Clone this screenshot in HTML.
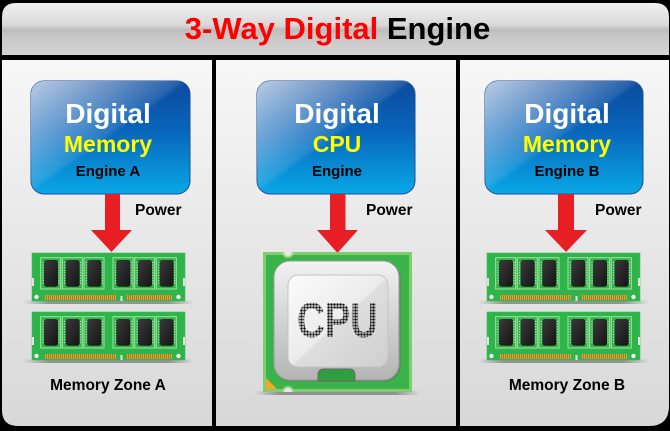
<!DOCTYPE html>
<html>
<head>
<meta charset="utf-8">
<style>
  html, body { margin:0; padding:0; background:#000; }
  body { width:670px; height:431px; overflow:hidden; }
  svg { display:block; }
</style>
</head>
<body>
<svg width="670" height="431" viewBox="0 0 670 431" xmlns="http://www.w3.org/2000/svg">
  <defs>
    <linearGradient id="hdr" x1="0" y1="0" x2="0" y2="1">
      <stop offset="0" stop-color="#f0f0f0"/>
      <stop offset="0.42" stop-color="#d9d9d9"/>
      <stop offset="0.52" stop-color="#bcbcbc"/>
      <stop offset="0.62" stop-color="#c6c6c6"/>
      <stop offset="1" stop-color="#d4d4d4"/>
    </linearGradient>
    <linearGradient id="pnl" x1="0" y1="0" x2="0" y2="1">
      <stop offset="0" stop-color="#f7f7f7"/>
      <stop offset="1" stop-color="#d8d8d8"/>
    </linearGradient>
    <linearGradient id="blueBase" x1="0" y1="0" x2="0" y2="1">
      <stop offset="0" stop-color="#0c4a9e"/>
      <stop offset="0.45" stop-color="#0866bb"/>
      <stop offset="1" stop-color="#08a8e6"/>
    </linearGradient>
    <linearGradient id="gloss" x1="0" y1="0" x2="1" y2="1">
      <stop offset="0" stop-color="#ffffff" stop-opacity="0.72"/>
      <stop offset="0.3" stop-color="#ffffff" stop-opacity="0.35"/>
      <stop offset="0.47" stop-color="#ffffff" stop-opacity="0.12"/>
      <stop offset="0.5" stop-color="#ffffff" stop-opacity="0"/>
    </linearGradient>
    <linearGradient id="shad" x1="0" y1="0" x2="1" y2="0">
      <stop offset="0" stop-color="#555" stop-opacity="0"/>
      <stop offset="0.15" stop-color="#555" stop-opacity="0.55"/>
      <stop offset="0.85" stop-color="#555" stop-opacity="0.55"/>
      <stop offset="1" stop-color="#555" stop-opacity="0"/>
    </linearGradient>
    <linearGradient id="chipG" x1="0" y1="0" x2="1" y2="1">
      <stop offset="0" stop-color="#3a3a3a"/>
      <stop offset="1" stop-color="#141414"/>
    </linearGradient>
    <pattern id="goldP" width="2" height="6" patternUnits="userSpaceOnUse">
      <rect width="2" height="6" fill="#d2ab3e"/>
      <rect width="0.7" height="6" fill="#8f6c1a"/>
    </pattern>
    <pattern id="dots" width="3" height="3" patternUnits="userSpaceOnUse">
      <circle cx="1.5" cy="1.5" r="1.25" fill="#111"/>
    </pattern>
    <linearGradient id="lid" x1="0" y1="0" x2="0" y2="1">
      <stop offset="0" stop-color="#f2f2f2"/>
      <stop offset="1" stop-color="#b4b4b4"/>
    </linearGradient>
    <linearGradient id="face" x1="0" y1="0" x2="1" y2="1">
      <stop offset="0" stop-color="#fbfbfb"/>
      <stop offset="0.5" stop-color="#ececec"/>
      <stop offset="0.52" stop-color="#dedede"/>
      <stop offset="1" stop-color="#cfcfcf"/>
    </linearGradient>

    <g id="ram">
      <rect x="-9" y="47.5" width="171" height="3.5" fill="url(#shad)"/>
      <rect x="0" y="0" width="153" height="48" fill="#2fb34b" stroke="#44bd58" stroke-width="0.6"/>
      <rect x="0" y="25" width="2" height="8" fill="#e3e3e3"/>
      <rect x="151" y="25" width="2" height="8" fill="#e3e3e3"/>
      <g fill="none" stroke="#a6e3a0" stroke-width="1">
        <rect x="8.7" y="4.7" width="20" height="31.3"/>
        <rect x="30.3" y="4.7" width="20" height="31.3"/>
        <rect x="52" y="4.7" width="20" height="31.3"/>
        <rect x="81" y="4.7" width="20" height="31.3"/>
        <rect x="102.7" y="4.7" width="20" height="31.3"/>
        <rect x="124.3" y="4.7" width="20" height="31.3"/>
      </g>
      <g stroke="#cdeec6" stroke-width="1.2" stroke-dasharray="1 1.6">
        <line x1="11" y1="9" x2="11" y2="32"/><line x1="27" y1="9" x2="27" y2="32"/>
        <line x1="32.6" y1="9" x2="32.6" y2="32"/><line x1="48.6" y1="9" x2="48.6" y2="32"/>
        <line x1="54.3" y1="9" x2="54.3" y2="32"/><line x1="70.3" y1="9" x2="70.3" y2="32"/>
        <line x1="83.3" y1="9" x2="83.3" y2="32"/><line x1="99.3" y1="9" x2="99.3" y2="32"/>
        <line x1="105" y1="9" x2="105" y2="32"/><line x1="121" y1="9" x2="121" y2="32"/>
        <line x1="126.6" y1="9" x2="126.6" y2="32"/><line x1="142.6" y1="9" x2="142.6" y2="32"/>
      </g>
      <g fill="url(#chipG)">
        <rect x="12" y="7" width="14" height="26.7" rx="2.5"/>
        <rect x="33.6" y="7" width="14" height="26.7" rx="2.5"/>
        <rect x="55.3" y="7" width="14" height="26.7" rx="2.5"/>
        <rect x="84.3" y="7" width="14" height="26.7" rx="2.5"/>
        <rect x="106" y="7" width="14" height="26.7" rx="2.5"/>
        <rect x="127.6" y="7" width="14" height="26.7" rx="2.5"/>
      </g>
      <rect x="13" y="42" width="71" height="5" fill="url(#goldP)"/>
      <rect x="94" y="42" width="46" height="5" fill="url(#goldP)"/>
      <rect x="88.5" y="43" width="2" height="5" fill="#dfe9dc"/>
      <circle cx="4.5" cy="44" r="2.2" fill="#f2f2f2"/>
      <circle cx="146.5" cy="44" r="2.2" fill="#f2f2f2"/>
    </g>
  </defs>

  <!-- black frame -->
  <rect x="0" y="0" width="670" height="431" fill="#000"/>

  <!-- header -->
  <path d="M2,55 V17 Q2,3 16,3 H655 Q669,3 669,17 V55 Z" fill="url(#hdr)"/>
  <text x="337.5" y="39" text-anchor="middle" font-family="Liberation Sans, Arial, sans-serif" font-weight="bold" font-size="31"><tspan fill="#ff0000">3-Way Digital</tspan><tspan fill="#000"> Engine</tspan></text>

  <!-- panels -->
  <path d="M2,60 H212 V426 H18 Q2,426 2,410 Z" fill="url(#pnl)"/>
  <rect x="216" y="60" width="240" height="366" fill="url(#pnl)"/>
  <path d="M460,60 H669 V406 Q669,426 649,426 H460 Z" fill="url(#pnl)"/>

  <!-- blue boxes -->
  <g>
    <rect x="31" y="81" width="159" height="113" rx="13" fill="url(#blueBase)" stroke="#1b4d99" stroke-width="1"/>
    <rect x="31" y="81" width="159" height="113" rx="13" fill="url(#gloss)"/>
    <rect x="257" y="81" width="158" height="113" rx="13" fill="url(#blueBase)" stroke="#1b4d99" stroke-width="1"/>
    <rect x="257" y="81" width="158" height="113" rx="13" fill="url(#gloss)"/>
    <rect x="485" y="81" width="158" height="113" rx="13" fill="url(#blueBase)" stroke="#1b4d99" stroke-width="1"/>
    <rect x="485" y="81" width="158" height="113" rx="13" fill="url(#gloss)"/>
  </g>
  <g font-family="Liberation Sans, Arial, sans-serif" font-weight="bold" text-anchor="middle">
    <text x="108" y="123" font-size="28" fill="#ffffff">Digital</text>
    <text x="108" y="152" font-size="23" fill="#ffff00">Memory</text>
    <text x="108" y="176" font-size="15" fill="#000">Engine A</text>

    <text x="337" y="123" font-size="28" fill="#ffffff">Digital</text>
    <text x="337" y="152" font-size="23" fill="#ffff00">CPU</text>
    <text x="337" y="176" font-size="15" fill="#000">Engine</text>

    <text x="567" y="123" font-size="28" fill="#ffffff">Digital</text>
    <text x="567" y="152" font-size="23" fill="#ffff00">Memory</text>
    <text x="567" y="176" font-size="15" fill="#000">Engine B</text>
  </g>

  <!-- arrows -->
  <g fill="#e81e25">
    <rect x="105" y="194" width="15" height="37"/>
    <polygon points="91,230 132,230 111.5,252"/>
    <rect x="330" y="194" width="15.5" height="37"/>
    <polygon points="317,230 358,230 337.5,253"/>
    <rect x="558" y="194" width="16" height="37"/>
    <polygon points="545,230 587,230 566,252"/>
  </g>
  <g font-family="Liberation Sans, Arial, sans-serif" font-weight="bold" font-size="15.5" fill="#000">
    <text x="135" y="215">Power</text>
    <text x="366" y="215">Power</text>
    <text x="595" y="215">Power</text>
  </g>

  <!-- RAM modules -->
  <use href="#ram" x="32" y="253"/>
  <use href="#ram" x="32" y="312"/>
  <use href="#ram" x="487" y="253"/>
  <use href="#ram" x="487" y="312"/>

  <!-- CPU -->
  <rect x="255" y="391" width="165" height="4" fill="url(#shad)"/>
  <rect x="263" y="252" width="149" height="140" fill="#80cd70"/>
  <rect x="266" y="255" width="143" height="134" fill="#3ab449"/>
  <path d="M282,252 A6,6 0 0 0 294,252 Z" fill="#9ad88c"/>
  <path d="M284,252 A4,4 0 0 0 292,252 Z" fill="#e6e6e6"/>
  <path d="M282,392 A6,6 0 0 1 294,392 Z" fill="#9ad88c"/>
  <path d="M284,392 A4,4 0 0 1 292,392 Z" fill="#e6e6e6"/>
  <polygon points="266,378 266,389 277,389" fill="#f5a623"/>
  <rect x="275" y="263" width="126" height="119" rx="16" fill="#6f6f6f" opacity="0.5"/>
  <rect x="274" y="261" width="125" height="119" rx="16" fill="url(#lid)" stroke="#9a9a9a" stroke-width="1"/>
  <rect x="288" y="275" width="100" height="92" rx="10" fill="url(#face)" stroke="#c4c4c4" stroke-width="1"/>
  <path d="M318,381 V375 Q318,369 324,369 H349 Q355,369 355,375 V381 Z" fill="#2f9e3f" stroke="#6a6a6a" stroke-width="1"/>
  <text x="297" y="337" font-family="Liberation Sans, Arial, sans-serif" font-weight="bold" font-size="49" textLength="81" lengthAdjust="spacingAndGlyphs" fill="url(#dots)">CPU</text>

  <!-- zone labels -->
  <g font-family="Liberation Sans, Arial, sans-serif" font-weight="bold" font-size="15.5" fill="#000" text-anchor="middle">
    <text x="108" y="390">Memory Zone A</text>
    <text x="567" y="390">Memory Zone B</text>
  </g>
</svg>
</body>
</html>
